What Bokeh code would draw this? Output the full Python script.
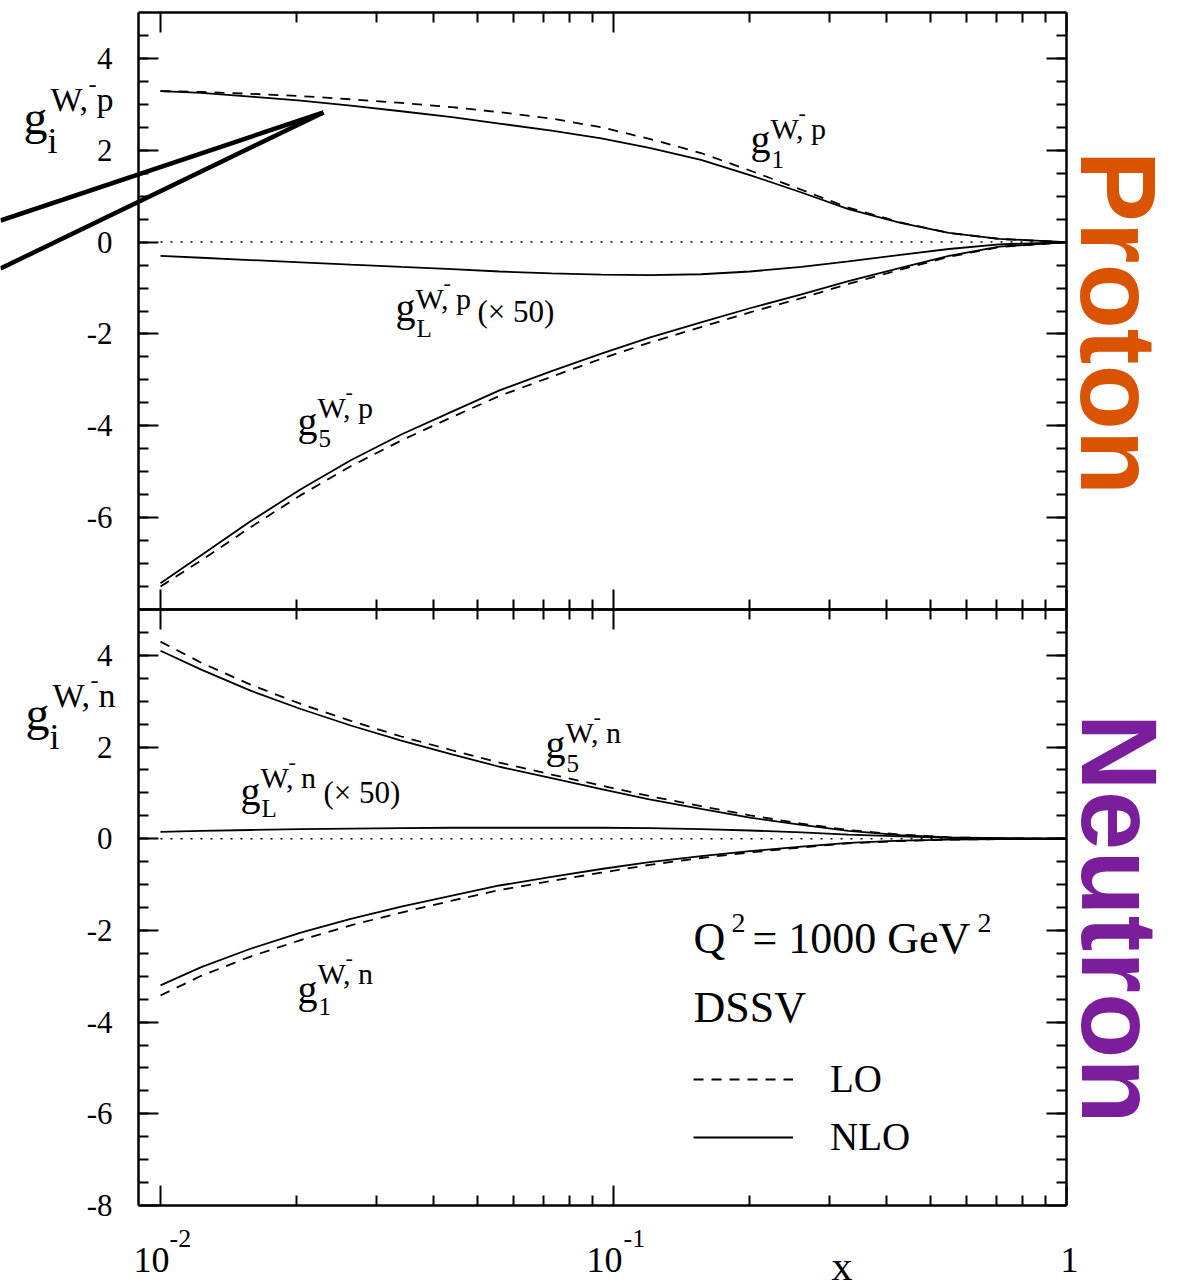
import math
from bokeh.plotting import figure
from bokeh.models import (FixedTicker, LinearAxis, LogAxis, Label, Arrow, Legend,
                          LegendItem, Range1d, CustomJSTickFormatter)
from bokeh.embed import file_html
from bokeh.resources import INLINE

# ---------------------------------------------------------------- data
x = [0.01, 0.0123, 0.0158, 0.0204, 0.0263, 0.034, 0.044, 0.056, 0.073,
     0.094, 0.12, 0.156, 0.2, 0.26, 0.33, 0.43, 0.55, 0.71, 1.0]

# proton, W- exchange
p_g1_nlo = [3.29, 3.25, 3.17, 3.08, 2.97, 2.85, 2.72, 2.58, 2.43, 2.26,
            2.05, 1.79, 1.46, 1.08, 0.72, 0.42, 0.20, 0.07, 0.0]
p_g1_lo = [3.29, 3.27, 3.23, 3.18, 3.11, 3.03, 2.94, 2.83, 2.69, 2.50,
           2.25, 1.94, 1.56, 1.14, 0.75, 0.43, 0.20, 0.07, 0.0]
p_gL_nlo = [-0.30, -0.34, -0.39, -0.44, -0.49, -0.54, -0.59, -0.64, -0.68, -0.71,
            -0.72, -0.70, -0.64, -0.54, -0.42, -0.28, -0.15, -0.05, 0.0]
p_g5_nlo = [-7.43, -6.82, -6.08, -5.38, -4.75, -4.19, -3.69, -3.23, -2.81, -2.43,
            -2.08, -1.75, -1.44, -1.14, -0.85, -0.56, -0.30, -0.10, 0.0]
p_g5_lo = [-7.50, -6.93, -6.21, -5.51, -4.88, -4.32, -3.81, -3.35, -2.93, -2.54,
           -2.19, -1.85, -1.53, -1.22, -0.91, -0.60, -0.32, -0.11, 0.0]

# neutron, W- exchange
n_g5_nlo = [4.10, 3.69, 3.23, 2.83, 2.47, 2.14, 1.84, 1.57, 1.32, 1.08,
            0.86, 0.65, 0.46, 0.30, 0.17, 0.08, 0.03, 0.01, 0.0]
n_g5_lo = [4.30, 3.84, 3.36, 2.94, 2.57, 2.23, 1.93, 1.66, 1.40, 1.16,
           0.93, 0.71, 0.51, 0.33, 0.19, 0.09, 0.03, 0.01, 0.0]
n_gL_nlo = [0.15, 0.17, 0.19, 0.21, 0.22, 0.23, 0.24, 0.24, 0.24, 0.24,
            0.23, 0.21, 0.18, 0.14, 0.09, 0.05, 0.02, 0.01, 0.0]
n_g1_nlo = [-3.20, -2.80, -2.40, -2.05, -1.75, -1.48, -1.24, -1.02, -0.83, -0.66,
            -0.51, -0.38, -0.27, -0.17, -0.09, -0.04, -0.02, -0.01, 0.0]
n_g1_lo = [-3.42, -2.99, -2.57, -2.21, -1.89, -1.61, -1.35, -1.12, -0.92, -0.74,
           -0.57, -0.42, -0.30, -0.19, -0.10, -0.05, -0.02, -0.01, 0.0]

# ticks
x_major = [0.01, 0.1, 1.0]
x_minor = [0.02, 0.03, 0.04, 0.05, 0.06, 0.07, 0.08, 0.09,
           0.2, 0.3, 0.4, 0.5, 0.6, 0.7, 0.8, 0.9]
y_major_top = [-6, -4, -2, 0, 2, 4]
y_major_bot = [-8, -6, -4, -2, 0, 2, 4]
y_minor = [i / 2 for i in range(-15, 10)]

# ---------------------------------------------------------------- geometry
# The whole canvas is the plot frame; each panel box is drawn by four
# axes pinned with fixed_location, so texts outside the boxes stay visible.
W, H = 1179, 1288
PX_DECADE = 453.0          # pixels per decade in x
PX_X001 = 160.0            # pixel column of x = 0.01
X_LO = 10 ** (-2 - 22 / PX_DECADE)   # left edge of the boxes
X_HI = 1.0
Y_LO, Y_HI = -8, 5
TOP_BOX = (12, 609)        # pixel rows of the proton box
BOT_BOX = (609, 1205)      # pixel rows of the neutron box
SERIF = "Liberation Serif"
SANS = "Liberation Sans"
DASH = "10 8"
LW = 1.8
# Label anchors sit about a third of an em above the glyph baseline
BASE_SHIFT = 0.35


def px2x(px):
    return 10 ** (-2 + (px - PX_X001) / PX_DECADE)


def top_y(py):
    return Y_HI - (py - TOP_BOX[0]) * (Y_HI - Y_LO) / (TOP_BOX[1] - TOP_BOX[0])


def bot_y(py):
    return Y_HI - (py - BOT_BOX[0]) * (Y_HI - Y_LO) / (BOT_BOX[1] - BOT_BOX[0])


p = figure(width=W, height=H, x_axis_type="log",
           x_range=Range1d(px2x(0), px2x(W)),
           y_range=Range1d(top_y(H), top_y(0)),
           x_axis_location=None, y_axis_location=None,
           output_backend="svg", toolbar_location=None,
           min_border=0, min_border_left=0, min_border_right=0,
           min_border_top=0, min_border_bottom=0)
p.extra_y_ranges = {"bot": Range1d(bot_y(H), bot_y(0))}
p.grid.visible = False
p.outline_line_color = None
p.background_fill_color = "white"
p.border_fill_color = "white"

tick_fmt = CustomJSTickFormatter(code="return tick.toFixed(0)")


def style_axis(ax, labels=False):
    ax.axis_line_color = "black"
    ax.axis_line_width = 2.5
    ax.major_tick_in = 20
    ax.major_tick_out = 0
    ax.minor_tick_in = 10
    ax.minor_tick_out = 0
    ax.major_tick_line_width = 2
    ax.minor_tick_line_width = 2
    ax.major_tick_line_color = "black"
    ax.minor_tick_line_color = "black"
    if labels:
        ax.formatter = tick_fmt
        ax.major_label_text_font = SERIF
        ax.major_label_text_font_size = "31px"
        ax.major_label_text_color = "black"
        ax.major_label_standoff = 26
    else:
        ax.major_label_text_color = None


def panel_box(range_name, y_ticks):
    yt = FixedTicker(ticks=y_ticks, minor_ticks=y_minor)
    xt = FixedTicker(ticks=x_major, minor_ticks=x_minor)
    left = LinearAxis(y_range_name=range_name, fixed_location=X_LO,
                      bounds=(Y_LO, Y_HI), ticker=yt)
    right = LinearAxis(y_range_name=range_name, fixed_location=X_HI,
                       bounds=(Y_LO, Y_HI), ticker=yt)
    above = LogAxis(y_range_name=range_name, fixed_location=Y_HI,
                    bounds=(X_LO, X_HI), ticker=xt)
    below = LogAxis(y_range_name=range_name, fixed_location=Y_LO,
                    bounds=(X_LO, X_HI), ticker=xt)
    style_axis(left, labels=True)
    for ax in (right, above, below):
        style_axis(ax)
    p.add_layout(left, "left")
    p.add_layout(right, "right")
    p.add_layout(above, "above")
    p.add_layout(below, "below")
    # dotted zero line over the data span
    p.line([x[0], x[-1]], [0, 0], y_range_name=range_name, line_color="black",
           line_width=1.5, line_dash="2 8")


def txt(range_name, yconv, px, py, text, size, font=SERIF, color="black",
        vertical=False, **kw):
    """Place text with its baseline at pixel (px, py)."""
    if vertical:
        px = px + BASE_SHIFT * size
        kw["angle"] = -math.pi / 2
    else:
        py = py - BASE_SHIFT * size
    p.add_layout(Label(x=px2x(px), y=yconv(py), y_range_name=range_name,
                       text=text, text_font=font, text_font_size=f"{size}px",
                       text_baseline="alphabetic", text_align="left",
                       text_color=color, **kw))


def g_label(rn, yconv, gx, gb, sub, sup, sub_dy=13, sup_dy=-18, big=False):
    if big:
        txt(rn, yconv, gx, gb, "g", 48)
        txt(rn, yconv, gx + 24, gb + 19, sub, 36)
        txt(rn, yconv, gx + 27, gb - 23, sup, 34)
        txt(rn, yconv, gx + 65, gb - 42, "-", 24)
    else:
        txt(rn, yconv, gx, gb, "g", 40)
        txt(rn, yconv, gx + 21, gb + sub_dy, sub, 25)
        txt(rn, yconv, gx + 20, gb + sup_dy, sup, 30)
        txt(rn, yconv, gx + 48, gb + sup_dy - 18, "-", 22)


# ---------------------------------------------------------------- proton panel
panel_box("default", y_major_top)
p.line(x, p_g1_lo, line_color="black", line_width=LW, line_dash=DASH)
p.line(x, p_g1_nlo, line_color="black", line_width=LW)
p.line(x, p_gL_nlo, line_color="black", line_width=LW)
p.line(x, p_g5_lo, line_color="black", line_width=LW, line_dash=DASH)
p.line(x, p_g5_nlo, line_color="black", line_width=LW)

T = "default"
g_label(T, top_y, 23, 134, "i", "W, p", big=True)
g_label(T, top_y, 750, 153, "1", "W, p", sub_dy=15, sup_dy=-15)
g_label(T, top_y, 395, 321, "L", "W, p", sub_dy=16, sup_dy=-13)
txt(T, top_y, 477, 322, "(\u00d7 50)", 31)
g_label(T, top_y, 297, 435, "5", "W, p", sub_dy=12, sup_dy=-18)

for y0 in (220, 268):
    p.add_layout(Arrow(end=None, x_start=px2x(0), y_start=top_y(y0),
                       x_end=px2x(323), y_end=top_y(112),
                       line_color="black", line_width=4.5))

txt(T, top_y, 1080, 150, "Proton", 107, font=SANS, color="#D95300",
    vertical=True, text_font_style="bold")

# ---------------------------------------------------------------- neutron panel
B = "bot"
panel_box(B, y_major_bot)
p.line(x, n_g5_lo, y_range_name=B, line_color="black", line_width=LW, line_dash=DASH)
p.line(x, n_g5_nlo, y_range_name=B, line_color="black", line_width=LW)
p.line(x, n_gL_nlo, y_range_name=B, line_color="black", line_width=LW)
r_lo = p.line(x, n_g1_lo, y_range_name=B, line_color="black", line_width=LW,
              line_dash=DASH)
r_nlo = p.line(x, n_g1_nlo, y_range_name=B, line_color="black", line_width=LW)

g_label(B, bot_y, 25, 730, "i", "W, n", big=True)
g_label(B, bot_y, 545, 758, "5", "W, n", sub_dy=14, sup_dy=-16)
g_label(B, bot_y, 240, 805, "L", "W, n", sub_dy=12, sup_dy=-18)
txt(B, bot_y, 323, 803, "(\u00d7 50)", 31)
g_label(B, bot_y, 297, 1003, "1", "W, n", sub_dy=12, sup_dy=-20)

txt(B, bot_y, 693, 953, "Q", 44)
txt(B, bot_y, 731, 932, "2", 28)
txt(B, bot_y, 752, 953, "= 1000 GeV", 44)
txt(B, bot_y, 977, 932, "2", 28)
txt(B, bot_y, 693, 1022, "DSSV", 44)

legend = Legend(items=[LegendItem(label="LO", renderers=[r_lo]),
                       LegendItem(label="NLO", renderers=[r_nlo])],
                location=(693, H - 1159), orientation="vertical",
                glyph_width=100, glyph_height=44, label_height=44,
                label_standoff=37, spacing=13, padding=0, margin=0,
                border_line_color=None, background_fill_alpha=0,
                label_text_font=SERIF, label_text_font_size="39px",
                label_text_color="black")
p.add_layout(legend)

# x tick labels and x title
txt(B, bot_y, 133, 1272, "10", 36)
txt(B, bot_y, 169, 1247, "-2", 26)
txt(B, bot_y, 586, 1272, "10", 36)
txt(B, bot_y, 623, 1247, "-1", 26)
txt(B, bot_y, 1060, 1272, "1", 36)
txt(B, bot_y, 831, 1280, "x", 42)

txt(B, bot_y, 1081, 713, "Neutron", 107, font=SANS, color="#7A1E9C",
    vertical=True, text_font_style="bold")

open("out.html", "w").write(file_html(p, INLINE))
